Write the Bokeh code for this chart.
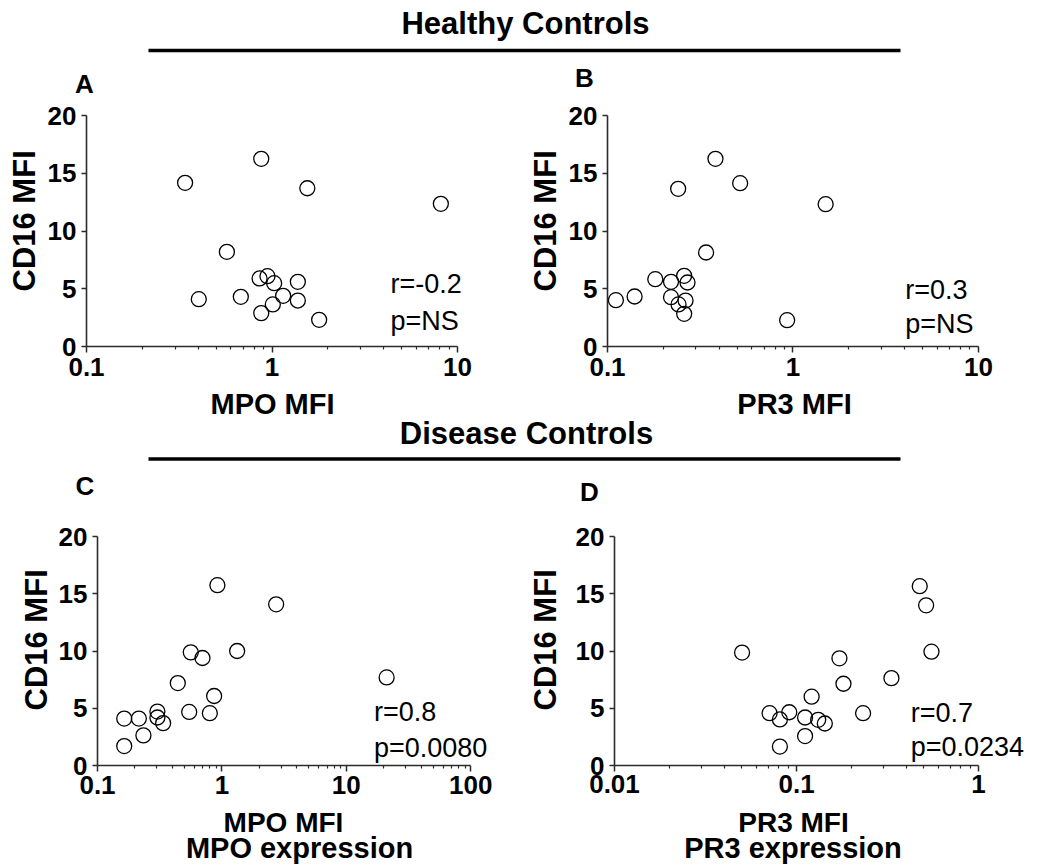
from bokeh.plotting import figure
from bokeh.layouts import column, row
from bokeh.models import (Range1d, FixedTicker, CustomJSTickFormatter, Label,
                          BoxAnnotation, Title)
from bokeh.embed import file_html
from bokeh.resources import INLINE

# ---------------- data ----------------
# Panel A: Healthy controls, MPO MFI vs CD16 MFI
a_mpo = [0.34, 0.875, 1.55, 8.13, 0.571, 0.403, 0.679, 0.857, 0.945, 1.027,
         1.148, 1.01, 0.875, 1.378, 1.378, 1.795]
a_cd16 = [14.17, 16.25, 13.7, 12.35, 8.2, 4.1, 4.3, 5.89, 6.09, 5.48,
          4.39, 3.64, 2.89, 5.6, 3.98, 2.31]
# Panel B: Healthy controls, PR3 MFI vs CD16 MFI
b_pr3 = [0.111, 0.14, 0.181, 0.220, 0.220, 0.2415, 0.259, 0.27, 0.2635,
         0.259, 0.2404, 0.382, 0.519, 1.50, 0.34, 0.93]
b_cd16 = [4.01, 4.33, 5.83, 5.6, 4.27, 3.64, 6.12, 5.54, 3.98,
          2.83, 13.65, 16.25, 14.14, 12.32, 8.14, 2.28]
# Panel C: Disease controls, MPO MFI vs CD16 MFI
c_mpo = [0.164, 0.164, 0.215, 0.234, 0.303, 0.303, 0.337, 0.442, 0.546,
         0.562, 0.698, 0.80, 0.866, 0.92, 1.326, 2.73, 21.1]
c_cd16 = [4.1, 1.7, 4.1, 2.63, 4.71, 4.19, 3.7, 7.2, 4.68,
          9.88, 9.39, 4.57, 6.07, 15.75, 10.0, 14.08, 7.69]
# Panel D: Disease controls, PR3 MFI vs CD16 MFI
d_pr3 = [0.0502, 0.0711, 0.081, 0.081, 0.0912, 0.1114, 0.1114, 0.121, 0.1315,
         0.143, 0.172, 0.181, 0.232, 0.332, 0.475, 0.515, 0.551]
d_cd16 = [9.86, 4.57, 4.02, 1.65, 4.65, 4.19, 2.57, 6.01, 3.99,
          3.67, 9.36, 7.14, 4.57, 7.63, 15.66, 13.99, 9.94]

y_ticks = [0, 5, 10, 15, 20]
y_title = "CD16 MFI"
stats = {"A": ["r=-0.2", "p=NS"], "B": ["r=0.3", "p=NS"],
         "C": ["r=0.8", "p=0.0080"], "D": ["r=0.7", "p=0.0234"]}
group_titles = ["Healthy Controls", "Disease Controls"]
letters = ["A", "B", "C", "D"]
x_titles_top = ["MPO MFI", "PR3 MFI"]
x_titles_bottom = [["MPO MFI", "MPO expression"], ["PR3 MFI", "PR3 expression"]]

FONT = "Liberation Sans"
AX_COLOR = "#2b2b2b"
W = 1044


def decade_minors(lo, hi):
    out = []
    d = lo
    while d < hi - 1e-12:
        out += [d * k for k in range(2, 10)]
        d *= 10
    return out


def panel(xs, ys, xlo, xhi, xview_hi, stat, stat_xy, width, height,
          bl, br, bt, bb, xlab_standoff, ytitle_standoff):
    p = figure(width=width, height=height, x_axis_type="log",
               x_range=Range1d(xlo, xview_hi), y_range=Range1d(0, 20),
               output_backend="svg", toolbar_location=None,
               min_border_left=bl, min_border_right=br,
               min_border_top=bt, min_border_bottom=bb)
    p.outline_line_color = None
    p.xgrid.visible = False
    p.ygrid.visible = False

    majors = []
    d = xlo
    while d <= xhi * 1.0001:
        majors.append(d)
        d *= 10
    p.xaxis.ticker = FixedTicker(ticks=majors, minor_ticks=decade_minors(xlo, xhi))
    p.xaxis.formatter = CustomJSTickFormatter(code="return String(tick);")
    p.xaxis.bounds = (xlo, xhi)
    p.yaxis.ticker = FixedTicker(ticks=y_ticks)

    for ax in (p.xaxis[0], p.yaxis[0]):
        ax.axis_line_color = AX_COLOR
        ax.axis_line_width = 1.6
        ax.major_tick_line_color = AX_COLOR
        ax.minor_tick_line_color = AX_COLOR
        ax.major_tick_line_width = 1.5
        ax.minor_tick_line_width = 1.2
        ax.major_tick_in = 0
        ax.minor_tick_in = 0
        ax.major_label_text_font = FONT
        ax.major_label_text_font_style = "bold"
        ax.major_label_text_font_size = "26px"
        ax.major_label_text_color = "black"

    p.xaxis.major_tick_out = 6
    p.xaxis.minor_tick_out = 3
    p.xaxis.major_label_standoff = xlab_standoff

    p.yaxis.major_tick_out = 5
    p.yaxis.minor_tick_out = 0
    p.yaxis.major_label_standoff = 5

    # y-axis title, anchored from the bottom of the plot area
    p.add_layout(Title(text=y_title, align="left", offset=55,
                       vertical_align="bottom", standoff=ytitle_standoff,
                       text_font=FONT, text_font_style="bold",
                       text_font_size="31px", text_color="black"), "left")

    p.scatter(xs, ys, marker="circle", size=15, fill_alpha=0,
              line_color="black", line_width=1.3)

    sx, sy1, sy2 = stat_xy
    for txt, yy in zip(stat, (sy1, sy2)):
        p.add_layout(Label(x=sx, y=yy, text=txt, text_font=FONT,
                           text_font_size="27px", text_align="left",
                           text_baseline="middle", text_color="black"))
    return p


def strip(height, texts, line_y=None):
    """Figure holding page-level titles (texts given in pixel units)."""
    h = figure(width=W, height=height, x_range=Range1d(0, W),
               y_range=Range1d(0, height), output_backend="svg",
               toolbar_location=None, x_axis_location=None,
               y_axis_location=None, min_border=0)
    h.outline_line_color = None
    h.xgrid.visible = False
    h.ygrid.visible = False
    for (txt, x, y, size) in texts:
        h.add_layout(Label(x=x, y=y, text=txt, text_font=FONT,
                           text_font_style="bold", text_font_size=size,
                           text_align="center", text_baseline="middle",
                           text_color="black"))
    if line_y is not None:
        h.add_layout(BoxAnnotation(left=148, right=900, bottom=line_y - 1.75,
                                   top=line_y + 1.75, fill_color="black",
                                   fill_alpha=1, line_color=None))
    return h


h1 = strip(98, [(group_titles[0], 525, 75.5, "31px"),
                (letters[0], 84, 14.5, "26px"),
                (letters[1], 584, 20.5, "26px")], line_y=48)

pa = panel(a_mpo, a_cd16, 0.1, 10, 19.54, stats["A"], (4.35, 5.37, 2.25),
           516, 288, 86, 5, 17, 40, 5, 6)
pb = panel(b_pr3, b_cd16, 0.1, 10, 21.6, stats["B"], (4.03, 4.85, 1.96),
           528, 288, 91, 4, 17, 40, 5, 6)

h2 = strip(124, [(x_titles_top[0], 272, 107, "29px"),
                 (x_titles_top[1], 794, 107, "29px"),
                 (group_titles[1], 526, 77.5, "31px"),
                 (letters[2], 84.5, 25, "26px"),
                 (letters[3], 589, 19, "26px")], line_y=51.5)

pc = panel(c_mpo, c_cd16, 0.1, 100, 212.8, stats["C"], (16.7, 4.68, 1.5),
           516, 294, 97, 5, 24, 39, 4, 4)
pd_ = panel(d_pr3, d_cd16, 0.01, 1, 2.244, stats["D"], (0.424, 4.62, 1.65),
            528, 294, 91, 2, 26, 38, 3, 19)

foot = strip(63, [(x_titles_bottom[0][0], 283, 45, "28px"),
                  (x_titles_bottom[0][1], 299, 19.5, "29px"),
                  (x_titles_bottom[1][0], 793, 45, "28px"),
                  (x_titles_bottom[1][1], 792.5, 19.5, "29px")])

layout = column(h1, row(pa, pb), h2, row(pc, pd_), foot)

with open("out.html", "w") as f:
    f.write(file_html(layout, INLINE))
